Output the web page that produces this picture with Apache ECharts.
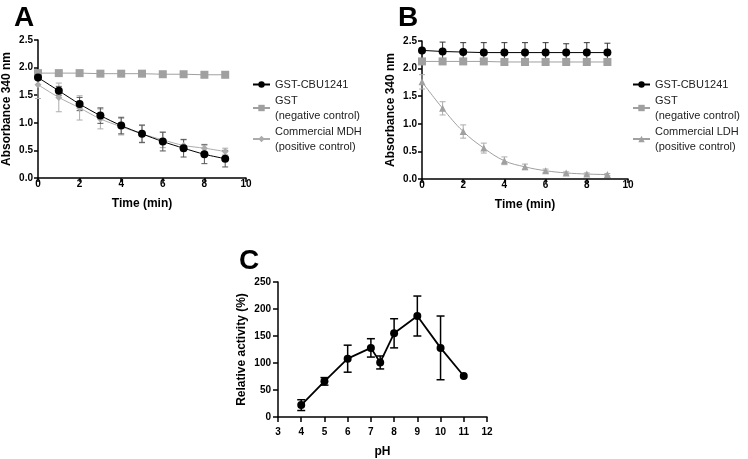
<!DOCTYPE html>
<html><head><meta charset="utf-8">
<script src="https://cdn.jsdelivr.net/npm/echarts@6/dist/echarts.min.js"></script>
<style>html,body{margin:0;padding:0;background:#fff}#c{width:748px;height:459px}</style>
</head><body><div id="c"></div>
<script>
// ---- Data ----
const timeA = [0,1,2,3,4,5,6,7,8,9];
const cbuA = [1.82,1.58,1.34,1.13,0.95,0.80,0.66,0.54,0.43,0.35];
const cbuAErr = [0.03,0.08,0.12,0.14,0.15,0.16,0.17,0.16,0.17,0.15];
const gstA = [1.90,1.90,1.90,1.89,1.89,1.89,1.88,1.88,1.87,1.87];
const mdhA = [1.69,1.46,1.27,1.07,0.93,0.80,0.69,0.59,0.54,0.48];
const mdhAErr = [0.25,0.26,0.22,0.18,0.15,0.15,0.14,0.10,0.07,0.06];

const timeB = [0,1,2,3,4,5,6,7,8,9];
const cbuB = [2.33,2.31,2.30,2.29,2.29,2.29,2.29,2.29,2.29,2.29];
const cbuBErr = [0.00,0.17,0.17,0.18,0.18,0.18,0.18,0.16,0.18,0.17];
const gstB = [2.13,2.13,2.13,2.13,2.12,2.12,2.12,2.12,2.12,2.12];
const ldhB = [1.76,1.28,0.86,0.56,0.33,0.22,0.15,0.11,0.09,0.08];
const ldhBErr = [0.13,0.12,0.12,0.09,0.07,0.05,0.03,0.02,0.02,0.02];

const pH = [4,5,6,7,7.4,8,9,10,11];
const activity = [22,66,108,128,101,155,187,128,76];
const activityErr = [10,7,25,17,12,27,37,59,0];

const NAME_CBU = 'GST-CBU1241';
const NAME_GST = 'GST\n(negative control)';
const NAME_MDH = 'Commercial MDH\n(positive control)';
const NAME_LDH = 'Commercial LDH\n(positive control)';

const FONT = 'Liberation Sans';
const BLACK = '#000000';
const GRAY = '#a0a0a0';
const LGRAY = '#acacac';

function pairs(xs, ys){ return xs.map((x,i)=>[x, ys[i]]); }
function errData(xs, ys, es){ return xs.map((x,i)=>[x, ys[i], es[i]]); }

function errSeries(idx, data, color, capHalf, width){
  return {
    type:'custom', xAxisIndex: idx, yAxisIndex: idx, silent:true, z: 1,
    encode:{x:0, y:[1]},
    data: data.filter(d=>d[2]>0),
    renderItem: function(params, api){
      const x = api.value(0), y = api.value(1), e = api.value(2);
      const top = api.coord([x, y+e]);
      const bot = api.coord([x, y-e]);
      const st = {stroke: color, lineWidth: width};
      return {type:'group', children:[
        {type:'line', shape:{x1:top[0], y1:top[1], x2:bot[0], y2:bot[1]}, style:st},
        {type:'line', shape:{x1:top[0]-capHalf, y1:top[1], x2:top[0]+capHalf, y2:top[1]}, style:st},
        {type:'line', shape:{x1:bot[0]-capHalf, y1:bot[1], x2:bot[0]+capHalf, y2:bot[1]}, style:st}
      ]};
    }
  };
}

const labelStyle = {color:'#000', fontFamily:FONT, fontWeight:'bold', fontSize:10};
const axisLine = {show:true, lineStyle:{color:'#000', width:1.5}};
const nameStyle = {color:'#000', fontFamily:FONT, fontWeight:'bold', fontSize:12};

function xAx(idx, min, max, interval, name, gap, margin, tickLen){
  return {type:'value', gridIndex:idx, min, max, interval, name, nameLocation:'middle', nameGap:gap,
    nameTextStyle:nameStyle, axisLine,
    axisTick:{show:true, inside:false, length:tickLen, lineStyle:{color:'#000', width:1.5}},
    axisLabel:Object.assign({margin:margin}, labelStyle), splitLine:{show:false}};
}
function yAx(idx, min, max, interval, name, gap, margin, tickLen, fmt){
  return {type:'value', gridIndex:idx, min, max, interval, name, nameLocation:'middle', nameGap:gap,
    nameTextStyle:nameStyle, axisLine,
    axisTick:{show:true, inside:false, length:tickLen, lineStyle:{color:'#000', width:1.5}},
    axisLabel:Object.assign({margin:margin, formatter:fmt}, labelStyle), splitLine:{show:false}};
}

const legendText = {color:'#222', fontFamily:FONT, fontSize:11, lineHeight:15};

const option = {
  animation:false,
  backgroundColor:'#fff',
  title:[
    {text:'A', left:9, top:-1, textStyle:{fontFamily:FONT, fontWeight:'bold', fontSize:28, color:'#000'}},
    {text:'B', left:393, top:-1, textStyle:{fontFamily:FONT, fontWeight:'bold', fontSize:28, color:'#000'}},
    {text:'C', left:234, top:242, textStyle:{fontFamily:FONT, fontWeight:'bold', fontSize:28, color:'#000'}}
  ],
  grid:[
    {left:38, top:40, width:208, height:138},
    {left:422, top:41, width:206, height:138},
    {left:278, top:282, width:209, height:139}
  ],
  xAxis:[
    xAx(0, 0, 10, 2, 'Time (min)', 20, 1, 4),
    xAx(1, 0, 10, 2, 'Time (min)', 20, 1, 4),
    xAx(2, 3, 12, 1, 'pH', 29, 10, 5)
  ],
  yAxis:[
    yAx(0, 0, 2.5, 0.5, 'Absorbance 340 nm', 25, 5, 4, v=>v.toFixed(1)),
    yAx(1, 0, 2.5, 0.5, 'Absorbance 340 nm', 25, 5, 4, v=>v.toFixed(1)),
    yAx(2, 0, 250, 50, 'Relative activity (%)', 30, 7, 5, v=>String(v))
  ],
  legend:[
    {orient:'vertical', left:247, top:72, itemWidth:17, itemHeight:8, itemGap:1, textStyle:legendText,
      data:[NAME_CBU, NAME_GST, NAME_MDH]},
    {orient:'vertical', left:627, top:72, itemWidth:17, itemHeight:8, itemGap:1, textStyle:legendText,
      data:[NAME_CBU, NAME_GST, NAME_LDH]}
  ],
  series:[
    errSeries(0, errData(timeA, mdhA, mdhAErr), LGRAY, 3, 1),
    errSeries(0, errData(timeA, cbuA, cbuAErr), '#555', 3, 1),
    {name:NAME_GST, type:'line', xAxisIndex:0, yAxisIndex:0, data:pairs(timeA, gstA), symbol:'rect', symbolSize:8,
      itemStyle:{color:GRAY}, lineStyle:{color:GRAY, width:1}, z:3},
    {name:NAME_MDH, type:'line', xAxisIndex:0, yAxisIndex:0, data:pairs(timeA, mdhA), symbol:'diamond', symbolSize:7, smooth:0.3,
      itemStyle:{color:LGRAY}, lineStyle:{color:LGRAY, width:1}, z:3},
    {name:NAME_CBU, type:'line', xAxisIndex:0, yAxisIndex:0, data:pairs(timeA, cbuA), symbol:'circle', symbolSize:8, smooth:0.3,
      itemStyle:{color:BLACK}, lineStyle:{color:BLACK, width:1}, z:4},

    errSeries(1, errData(timeB, cbuB, cbuBErr), '#333', 3, 1),
    errSeries(1, errData(timeB, ldhB, ldhBErr), LGRAY, 3, 1),
    {name:NAME_CBU, type:'line', xAxisIndex:1, yAxisIndex:1, data:pairs(timeB, cbuB), symbol:'circle', symbolSize:8,
      itemStyle:{color:BLACK}, lineStyle:{color:BLACK, width:1}, z:4},
    {name:NAME_GST, type:'line', xAxisIndex:1, yAxisIndex:1, data:pairs(timeB, gstB), symbol:'rect', symbolSize:8,
      itemStyle:{color:GRAY}, lineStyle:{color:GRAY, width:1}, z:3},
    {name:NAME_LDH, type:'line', xAxisIndex:1, yAxisIndex:1, data:pairs(timeB, ldhB), symbol:'triangle', symbolSize:7, smooth:0.4,
      itemStyle:{color:GRAY}, lineStyle:{color:GRAY, width:1}, z:3},

    errSeries(2, errData(pH, activity, activityErr), BLACK, 4, 1.5),
    {name:'activity', type:'line', xAxisIndex:2, yAxisIndex:2, data:pairs(pH, activity), symbol:'circle', symbolSize:8,
      itemStyle:{color:BLACK}, lineStyle:{color:BLACK, width:1.8}, z:4}
  ]
};
const chart = echarts.init(document.getElementById('c'), null, {renderer:'canvas'});
chart.setOption(option);
</script></body></html>
